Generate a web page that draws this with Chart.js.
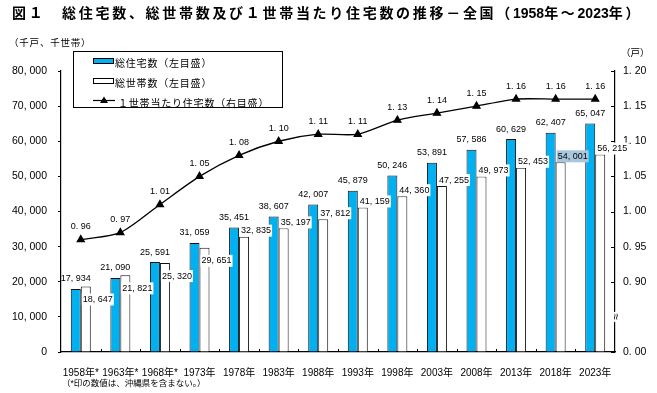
<!DOCTYPE html>
<html>
<head>
<meta charset="utf-8">
<script src="https://cdn.jsdelivr.net/npm/chart.js@4.4.0/dist/chart.umd.min.js"></script>
<style>
  body { margin: 0; background: #fff; }
  #wrap { position: relative; width: 657px; height: 393px; font-family: "Liberation Sans", "Noto Sans CJK JP", sans-serif; color: #000; }
  #wrap canvas { position: absolute; left: 0; top: 0; }
  .txt { position: absolute; white-space: nowrap; line-height: 1; }
  #title { left: 12px; top: 6px; font-size: 14px; font-weight: bold; letter-spacing: 2.7px; }
  #unitL { left: 9px; top: 38px; font-size: 9.5px; letter-spacing: 0.8px; }
  #unitR { left: 621px; top: 48px; font-size: 9.5px; }
  #note { left: 62px; top: 379px; font-size: 8.5px; }
  #legend { position: absolute; left: 73px; top: 51px; width: 208px; height: 55px; border: 1px solid #000; background: #fff; }
  .row { position: absolute; left: 0; height: 12px; font-size: 10px; letter-spacing: 0.8px; }
  .sw { position: absolute; left: 19px; top: 4px; width: 19px; height: 4px; border: 1px solid #000; }
  .row span.t { position: absolute; left: 41px; top: 1px; white-space: nowrap; }
</style>
</head>
<body>
<div id="wrap">
  <canvas id="chart" width="657" height="393"></canvas>
  <div class="txt" id="title">図１　総住宅数、総世帯数及び１世帯当たり住宅数の推移－全国（<span style="letter-spacing:0">1958</span>年～<span style="letter-spacing:0">2023</span>年）</div>
  <div class="txt" id="unitL">（千戸、千世帯）</div>
  <div class="txt" id="unitR">（戸）</div>
  <div class="txt" id="note">（*印の数値は、沖縄県を含まない。）</div>
  <div id="legend">
    <div class="row" style="top:2px"><div class="sw" style="background:#00b0f0"></div><span class="t">総住宅数（左目盛）</span></div>
    <div class="row" style="top:22px"><div class="sw" style="background:#fff"></div><span class="t">総世帯数（左目盛）</span></div>
    <div class="row" style="top:42px"><canvas id="lgLine" width="24" height="12" style="position:absolute;left:18px;top:0"></canvas><span class="t" style="left:44px">１世帯当たり住宅数（右目盛）</span></div>
  </div>
</div>
<script>
const years = ["1958年*", "1963年*", "1968年*", "1973年", "1978年", "1983年", "1988年",
               "1993年", "1998年", "2003年", "2008年", "2013年", "2018年", "2023年"];
const housingUnits = [17934, 21090, 25591, 31059, 35451, 38607, 42007,
                      45879, 50246, 53891, 57586, 60629, 62407, 65047];
const households = [18647, 21821, 25320, 29651, 32835, 35197, 37812,
                    41159, 44360, 47255, 49973, 52453, 54001, 56215];
const perHousehold = [0.96, 0.97, 1.01, 1.05, 1.08, 1.10, 1.11,
                      1.11, 1.13, 1.14, 1.15, 1.16, 1.16, 1.16];

const leftTicks = [0, 10000, 20000, 30000, 40000, 50000, 60000, 70000, 80000];
const rightTicks = [0.80, 0.85, 0.90, 0.95, 1.00, 1.05, 1.10, 1.15, 1.20];

const NUM_FONT = '"Liberation Sans", "Noto Sans CJK JP", sans-serif';

function fmtThousands(v) {
  return Math.round(v).toLocaleString('en-US').replace(',', ', ');
}
function fmtRatio(v) {
  return v.toFixed(2).replace('.', '. ');
}

// legend line sample
(function() {
  const c = document.getElementById('lgLine').getContext('2d');
  c.strokeStyle = '#000'; c.lineWidth = 1.2;
  c.beginPath(); c.moveTo(1, 6.5); c.lineTo(23, 6.5); c.stroke();
  c.fillStyle = '#000';
  c.beginPath(); c.moveTo(12, 2.5); c.lineTo(16, 9); c.lineTo(8, 9); c.closePath(); c.fill();
})();

// value labels, inner tick marks and the axis break
const decorations = {
  id: 'decorations',
  afterDatasetsDraw(chart) {
    const ctx = chart.ctx;
    const area = chart.chartArea;
    const x = chart.scales.x, y2 = chart.scales.y2;
    ctx.save();
    ctx.strokeStyle = '#000';
    ctx.lineWidth = 1;

    // x tick marks between categories (inside)
    for (let i = 1; i < years.length; i++) {
      const px = Math.round((x.getPixelForValue(i - 1) + x.getPixelForValue(i)) / 2) + 0.5;
      ctx.beginPath(); ctx.moveTo(px, area.bottom); ctx.lineTo(px, area.bottom - 3); ctx.stroke();
    }
    // right axis ticks (inside)
    rightTicks.forEach(v => {
      if (Math.abs(v - 0.85) < 1e-6) return;
      const py = Math.round(y2.getPixelForValue(v)) + 0.5;
      ctx.beginPath(); ctx.moveTo(area.right, py); ctx.lineTo(area.right - 4, py); ctx.stroke();
    });
    // axis break mark
    const by = y2.getPixelForValue(0.85);
    ctx.fillStyle = '#fff';
    ctx.fillRect(area.right - 3, by - 5, 6, 10);
    ctx.translate(area.right, by);
    ctx.rotate(Math.PI / 2);
    ctx.fillStyle = '#000';
    ctx.font = '12px ' + NUM_FONT;
    ctx.textAlign = 'center'; ctx.textBaseline = 'middle';
    ctx.fillText('≈', 0, 0);
    ctx.setTransform(1, 0, 0, 1, 0, 0);

    ctx.font = '9px ' + NUM_FONT;
    ctx.textBaseline = 'middle';

    // housing units: centred above the blue bar
    chart.getDatasetMeta(0).data.forEach((bar, i) => {
      ctx.textAlign = 'center';
      ctx.fillStyle = '#000';
      ctx.fillText(fmtThousands(housingUnits[i]), bar.x, bar.y - 10);
    });
    // households: to the right of the white bar
    chart.getDatasetMeta(1).data.forEach((bar, i) => {
      const s = fmtThousands(households[i]);
      const w = ctx.measureText(s).width;
      const lx = bar.x - bar.width / 2 + 2;
      const ly = i < 4 ? bar.y + 13 : bar.y - 6;
      ctx.fillStyle = i === 12 ? '#a9c6de' : '#fff';
      ctx.fillRect(lx - 1, ly - 6, w + 2, 12);
      ctx.fillStyle = '#000';
      ctx.textAlign = 'left';
      ctx.fillText(s, lx, ly);
    });
    // per household ratio above each point
    chart.getDatasetMeta(2).data.forEach((pt, i) => {
      ctx.textAlign = 'center';
      ctx.fillStyle = '#000';
      ctx.fillText(fmtRatio(perHousehold[i]), pt.x, pt.y - 13);
    });
    ctx.restore();
  }
};

new Chart(document.getElementById('chart'), {
  data: {
    labels: years,
    datasets: [{
      type: 'bar',
      label: '総住宅数（左目盛）',
      data: housingUnits,
      backgroundColor: '#00b0f0',
      borderColor: '#111',
      borderWidth: 1,
      categoryPercentage: 0.505,
      barPercentage: 1.0,
      yAxisID: 'y',
      order: 2
    }, {
      type: 'bar',
      label: '総世帯数（左目盛）',
      data: households,
      backgroundColor: '#fff',
      borderColor: '#111',
      borderWidth: 1,
      categoryPercentage: 0.505,
      barPercentage: 1.0,
      yAxisID: 'y',
      order: 2
    }, {
      type: 'line',
      label: '１世帯当たり住宅数（右目盛）',
      data: perHousehold,
      borderColor: '#000',
      borderWidth: 1.3,
      backgroundColor: '#000',
      pointStyle: 'triangle',
      pointRadius: 4,
      pointBackgroundColor: '#000',
      pointBorderColor: '#000',
      tension: 0.25,
      yAxisID: 'y2',
      order: 1
    }]
  },
  options: {
    responsive: false,
    animation: false,
    layout: { padding: { top: 71, left: 0, right: 0, bottom: 0 } },
    plugins: {
      legend: { display: false },
      title: { display: false },
      tooltip: { enabled: false }
    },
    scales: {
      x: {
        offset: true,
        grid: { display: false },
        border: { color: '#000', width: 1.2 },
        ticks: { color: '#000', font: { size: 10, family: NUM_FONT }, padding: 7, maxRotation: 0, autoSkip: false },
        afterFit(s) { s.height = 41; }
      },
      y: {
        position: 'left',
        min: 0, max: 80000,
        afterBuildTicks(s) { s.ticks = leftTicks.map(v => ({ value: v })); },
        grid: { drawOnChartArea: false, tickLength: 3, tickColor: '#000' },
        border: { color: '#000', width: 1.2 },
        ticks: { color: '#000', font: { size: 10.5, family: NUM_FONT }, padding: 11, callback: v => fmtThousands(v) },
        afterFit(s) { s.width = 61; }
      },
      y2: {
        position: 'right',
        min: 0.8, max: 1.2,
        afterBuildTicks(s) { s.ticks = rightTicks.map(v => ({ value: v })); },
        grid: { drawOnChartArea: false, drawTicks: false },
        border: { color: '#000', width: 1.2 },
        ticks: {
          color: '#000', font: { size: 10.5, family: NUM_FONT }, padding: 8,
          callback: v => {
            if (Math.abs(v - 0.80) < 1e-6) return '0. 00';
            if (Math.abs(v - 0.85) < 1e-6) return '';
            return fmtRatio(v);
          }
        },
        afterFit(s) { s.width = 42; }
      }
    }
  },
  plugins: [decorations]
});
</script>
</body>
</html>
